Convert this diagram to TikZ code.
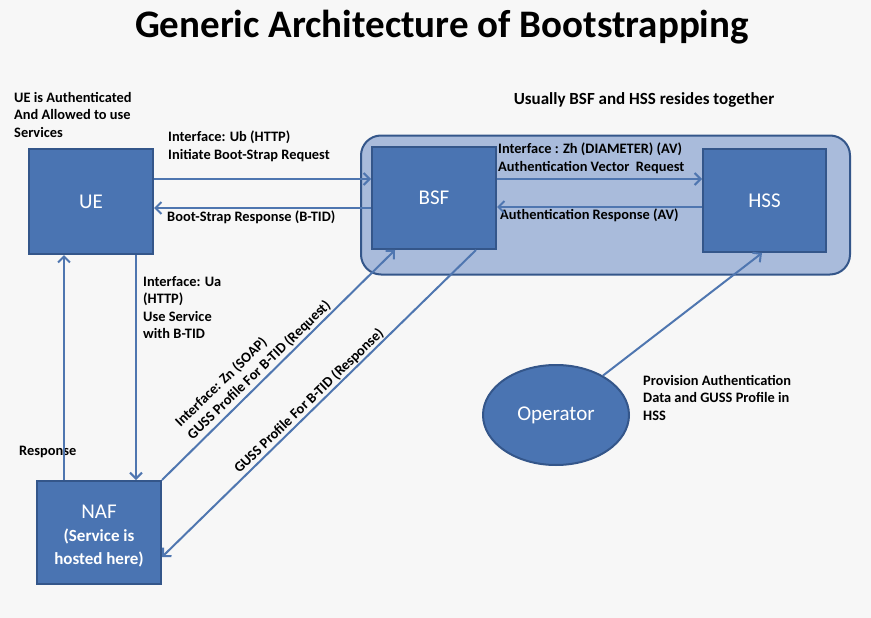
\documentclass[tikz,border=0pt]{standalone}
\usepackage{fontspec}
\setmainfont{Carlito}
\usetikzlibrary{arrows.meta,shapes.geometric}
\definecolor{boxfill}{HTML}{4A74B2}
\definecolor{boxline}{HTML}{34568A}
\definecolor{contfill}{HTML}{A9BBDB}
\definecolor{arrowc}{HTML}{4F76B0}
\definecolor{bg}{HTML}{F7F7F7}
\tikzset{
  blk/.style={draw=boxline, line width=2pt, fill=boxfill, text=white, minimum width=#1, inner sep=0pt, font=\fontsize{21}{24}\selectfont},
  arr/.style={draw=arrowc, line width=2pt, -{Straight Barb[length=6pt,width=12pt,line width=2pt]}},
  lbl/.style={inner sep=0pt, align=left, font=\bfseries\fontsize{14.4}{17.5}\selectfont, text=black},
}
\begin{document}
\begin{tikzpicture}[x=1pt,y=-1pt]
\fill[bg] (0,0) rectangle (871,618);
\useasboundingbox (0,0) rectangle (871,618);

\node[inner sep=0pt, anchor=base, font=\bfseries\fontsize{39}{44}\selectfont] (title) at (442,38) {Generic Architecture of Bootstrapping};

\node[draw=boxline, line width=2pt, fill=contfill, rounded corners=20pt, minimum width=489pt, minimum height=139pt] (cont) at (605.5,205) {};

\node[blk=124pt, minimum height=105pt] (UE) at (91,201.5) {UE};
\node[blk=124pt, minimum height=102pt] (BSF) at (434,198) {BSF};
\node[blk=123pt, minimum height=103pt] (HSS) at (764.5,200.5) {HSS};
\node[blk=124pt, minimum height=103pt] (NAF) at (99,532.5) {};
\node[inner sep=0pt, text=white, align=center, font=\fontsize{21}{24}\selectfont] (NAFtext) at (99,536) {NAF\\[-1pt]{\bfseries\fontsize{17}{20}\selectfont (Service is}\\[-1pt]{\bfseries\fontsize{17}{20}\selectfont hosted here)}};
\node[draw=boxline, line width=2pt, fill=boxfill, text=white, ellipse, minimum width=146pt, minimum height=100pt, inner sep=0pt, font=\fontsize{21}{24}\selectfont] (Op) at (556,415) {Operator};

% labels
\node[lbl, anchor=north west] (l1) at (14,92) {UE is Authenticated\\And Allowed to use\\Services};
\node[lbl, anchor=north west] (l2) at (168,131) {Interface: Ub (HTTP)\\Initiate Boot-Strap Request};
\node[lbl, anchor=north west] (l3) at (167,211) {Boot-Strap Response (B-TID)};
\node[lbl, anchor=north, font=\bfseries\fontsize{17}{20}\selectfont] (l4) at (644,92) {Usually BSF and HSS resides together};
\node[lbl, anchor=north west] (l5) at (498,143) {Interface : Zh (DIAMETER) (AV)\\Authentication Vector\ \ Request};
\node[lbl, anchor=north west] (l6) at (500,209) {Authentication Response (AV)};
\node[lbl, anchor=north west] (l7) at (143,276) {Interface: Ua\\(HTTP)\\Use Service\\with B-TID};
\node[lbl, anchor=north west] (l8) at (19,446) {Response};
\node[lbl, anchor=north west] (l9) at (643,375) {Provision Authentication\\Data and GUSS Profile in\\HSS};
\node[lbl, rotate=44] (l10) at (253,364) {Interface: Zn (SOAP)\\GUSS Profile For B-TID (Request)};
\node[lbl, rotate=44] (l11) at (309,401) {GUSS Profile For B-TID (Response)};

% connectors
\draw[arr] (UE.east |- 0,179) -- (BSF.west |- 0,179);
\draw[arr] (BSF.west |- 0,208) -- (UE.east |- 0,208);
\draw[arr] (BSF.east |- 0,179) -- (HSS.west |- 0,179);
\draw[arr] (HSS.west |- 0,207) -- (BSF.east |- 0,207);
\draw[arr] (UE.south -| 136,0) -- (NAF.north -| 136,0);
\draw[arr] (NAF.north -| 64,0) -- (UE.south -| 64,0);
\draw[arr] (NAF.north east) -- ([xshift=24pt]BSF.south west);
\draw[arr] ([xshift=-21pt]BSF.south east) -- (NAF.east |- 0,557);
\draw[arr] (Op.40) -- ([xshift=-2.5pt]HSS.south);
\end{tikzpicture}
\end{document}
